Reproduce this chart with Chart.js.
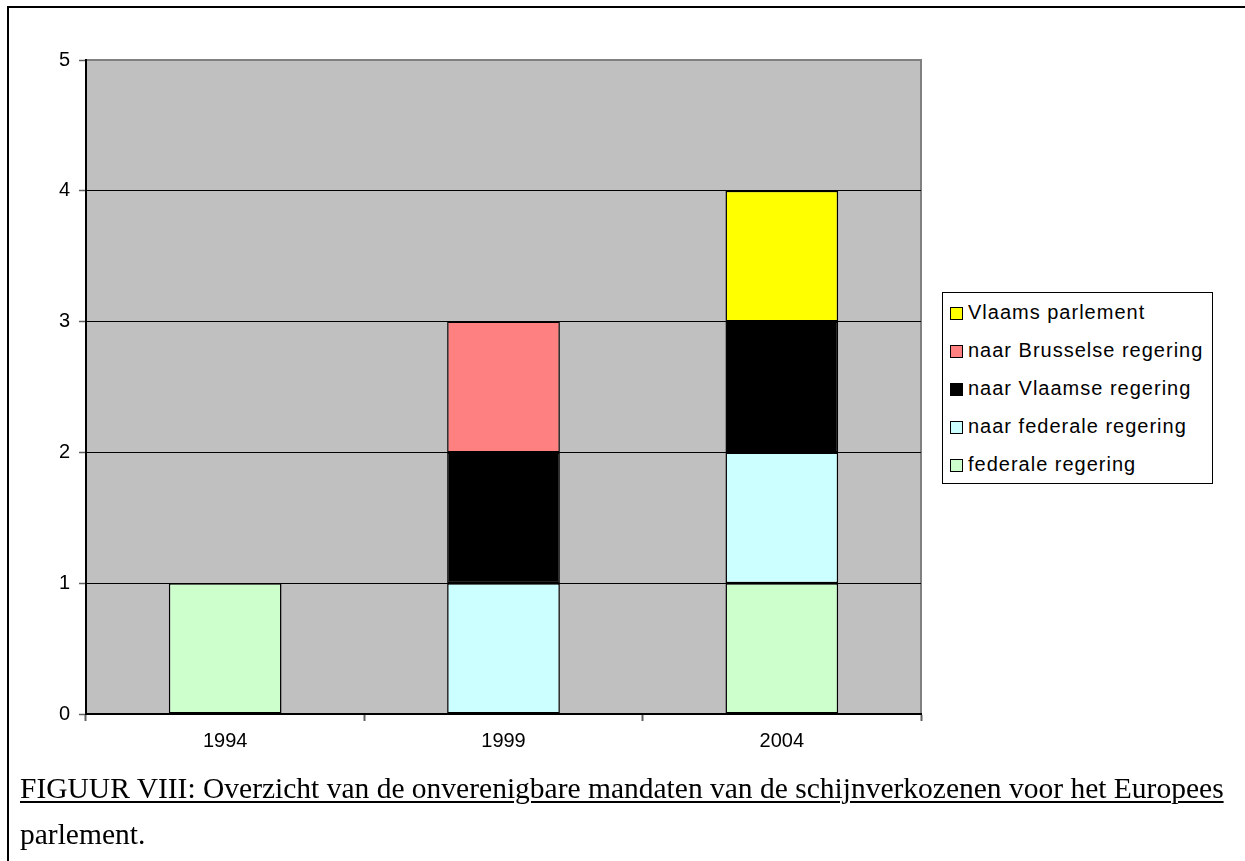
<!DOCTYPE html>
<html>
<head>
<meta charset="utf-8">
<script src="https://cdn.jsdelivr.net/npm/chart.js@4/dist/chart.umd.min.js"></script>
<style>
  html, body { margin: 0; padding: 0; background: #fff; overflow: hidden; }
  #wrap { position: relative; width: 1245px; height: 861px; overflow: hidden; background: #fff; }
  .fl { position: absolute; background: #000; }
  #c { position: absolute; left: 0; top: 0; }
  #legend { position: absolute; left: 942px; top: 292px; width: 271px; height: 192px; border: 1px solid #000; box-sizing: border-box; background: #fff; font-family: "Liberation Sans", Arial, sans-serif; font-size: 20px; color: #000; }
  .item { position: absolute; left: 7px; height: 22px; line-height: 22px; white-space: nowrap; letter-spacing: 1px; }
  .sw { display: inline-block; width: 11px; height: 11px; border: 1.5px solid #000; vertical-align: -1px; margin-right: 5px; }
  #caption { position: absolute; left: 20px; top: 765px; width: 1210px; white-space: nowrap; font-family: "Liberation Serif", "Times New Roman", serif; font-size: 29.5px; line-height: 46px; color: #000; }
  #caption u { text-decoration-thickness: 2px; text-underline-offset: 3px; }
  #cover { position: absolute; left: 1232px; top: 8px; width: 13px; height: 853px; background: #fff; z-index: 5; }
</style>
</head>
<body>
<div id="wrap">
  <div class="fl" style="left:7px;top:6px;width:1238px;height:2px"></div>
  <div class="fl" style="left:7px;top:6px;width:2px;height:855px"></div>
  <canvas id="c" width="1245" height="861"></canvas>
  <div id="legend"></div>
  <div id="caption"><u>FIGUUR VIII: Overzicht van de onverenigbare mandaten van de schijnverkozenen voor het Europees</u><br>parlement.</div>
  <div id="cover"></div>
</div>
<script>
const categories = ["1994", "1999", "2004"];
const seriesNames = ["federale regering", "naar federale regering", "naar Vlaamse regering", "naar Brusselse regering", "Vlaams parlement"];
const federaleRegering      = [1, null, 1];
const naarFederaleRegering  = [null, 1, 1];
const naarVlaamseRegering   = [null, 1, 1];
const naarBrusselseRegering = [null, 1, null];
const vlaamsParlement       = [null, null, 1];
const seriesColors = ["#CCFFCC", "#CCFFFF", "#000000", "#FF8080", "#FFFF00"];
const yTicks = [0, 1, 2, 3, 4, 5];

const seriesValues = [federaleRegering, naarFederaleRegering, naarVlaamseRegering, naarBrusselseRegering, vlaamsParlement];

const datasets = seriesNames.map((n, i) => ({
  label: n,
  data: seriesValues[i],
  backgroundColor: seriesColors[i],
  borderColor: "#000",
  borderWidth: 1.5,
  borderSkipped: false,
  categoryPercentage: 1.0,
  barPercentage: 0.405
}));

const plotBg = {
  id: "plotBg",
  beforeDraw(chart) {
    const { ctx, chartArea: a } = chart;
    ctx.save();
    ctx.fillStyle = "#C0C0C0";
    ctx.fillRect(a.left, a.top, a.right - a.left, a.bottom - a.top);
    ctx.strokeStyle = "#808080";
    ctx.lineWidth = 2;
    ctx.beginPath();
    ctx.moveTo(a.left, a.top);
    ctx.lineTo(a.right, a.top);
    ctx.lineTo(a.right, a.bottom);
    ctx.stroke();
    ctx.restore();
  }
};

new Chart(document.getElementById("c"), {
  type: "bar",
  data: { labels: categories, datasets },
  options: {
    responsive: false,
    animation: false,
    layout: { padding: { left: 0, top: 60, right: 324, bottom: 107 } },
    plugins: { legend: { display: false }, tooltip: { enabled: false } },
    scales: {
      x: {
        stacked: true,
        offset: true,
        grid: { offset: true, drawOnChartArea: false, drawTicks: true, tickLength: 7, tickColor: "#606060", tickWidth: 2 },
        border: { display: true, color: "#000", width: 2 },
        ticks: { color: "#000", font: { family: "Liberation Sans, Arial, sans-serif", size: 20 }, padding: 8 },
        afterFit(s) { s.height = 40; }
      },
      y: {
        stacked: true,
        min: 0, max: 5,
        afterBuildTicks(s) { s.ticks = yTicks.map(v => ({ value: v })); },
        grid: {
          color: ctx => (ctx.tick && ctx.tick.value === 5) ? "rgba(0,0,0,0)" : "#000",
          lineWidth: 1,
          drawTicks: true, tickLength: 7, tickColor: "#606060", tickWidth: 1.5
        },
        border: { display: true, color: "#000", width: 2 },
        ticks: { color: "#000", font: { family: "Liberation Sans, Arial, sans-serif", size: 20 }, padding: 9 },
        afterFit(s) { s.width = 86; }
      }
    }
  },
  plugins: [plotBg]
});

const lg = document.getElementById("legend");
const tops = [8, 46, 84, 122, 160];
for (let k = 0; k < seriesNames.length; k++) {
  const i = seriesNames.length - 1 - k;
  const d = document.createElement("div");
  d.className = "item";
  d.style.top = tops[k] + "px";
  const sw = document.createElement("span");
  sw.className = "sw";
  sw.style.background = seriesColors[i];
  d.appendChild(sw);
  d.appendChild(document.createTextNode(seriesNames[i]));
  lg.appendChild(d);
}
</script>
</body>
</html>
